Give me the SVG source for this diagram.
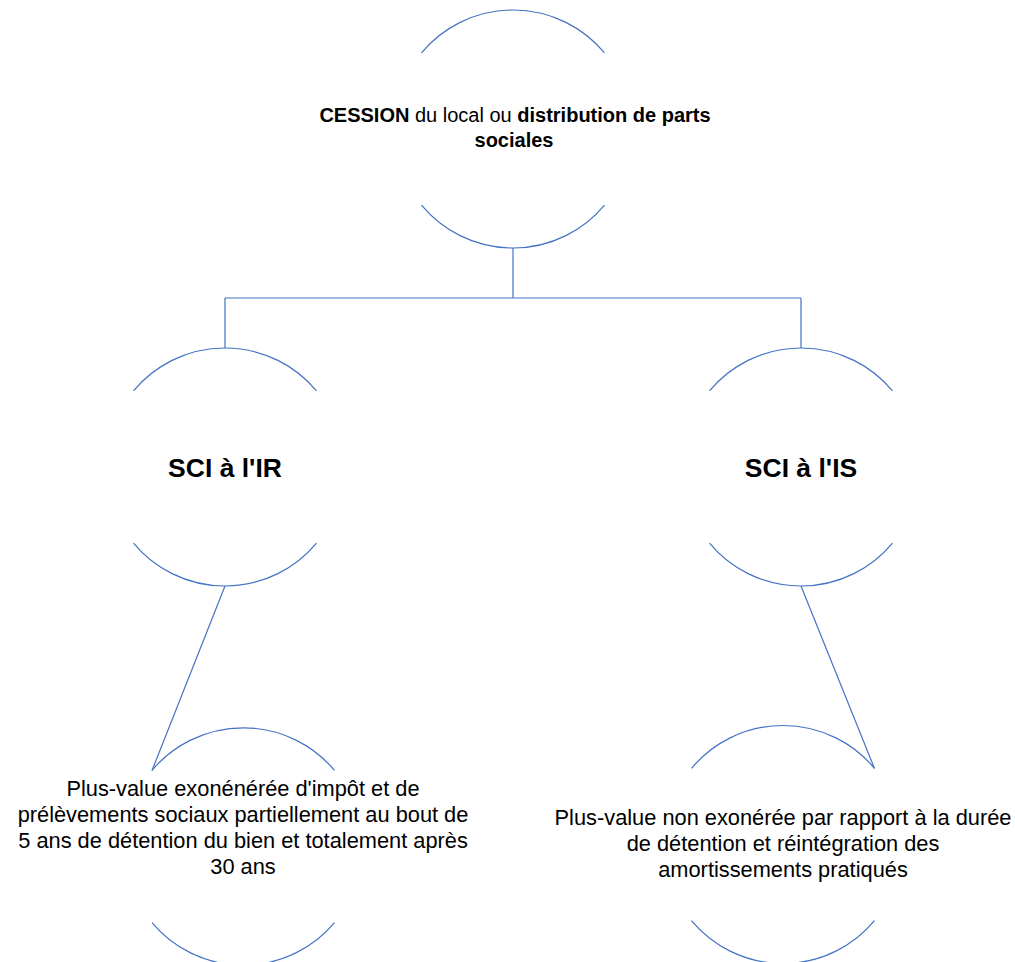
<svg xmlns="http://www.w3.org/2000/svg" width="1015" height="962" viewBox="0 0 1015 962">
<style>
.arc{fill:none;stroke:#4472C4;stroke-width:1.2}
.con{fill:none;stroke:#4472C4;stroke-width:1.2}
.t{font-family:"Liberation Sans",Arial,sans-serif;fill:#000;text-anchor:middle}
.s20{font-size:20px}
.s22{font-size:21.8px}
.big{font-size:26.5px;font-weight:bold}
.b{font-weight:bold}
</style>
<rect width="1015" height="962" fill="#fff"/>
<g id="connectors">
<path class="con" d="M513 248 V298 M225 298 H801 M225 298 V348 M801 298 V348"/>
<path class="con" d="M225 586 L152 770.5"/>
<path class="con" d="M801 586 L874.5 768.5"/>
</g>
<g id="node-cession">
<path class="arc" d="M421.5 52.9 A119 119 0 0 1 604.5 52.9"/>
<path class="arc" d="M604.5 205.1 A119 119 0 0 1 421.5 205.1"/>
<text class="t s20" x="515" y="121.5"><tspan class="b">CESSION</tspan> du local ou <tspan class="b">distribution de parts</tspan></text>
<text class="t s20 b" x="514" y="146.5">sociales</text>
</g>
<g id="node-ir">
<path class="arc" d="M133.5 390.9 A119 119 0 0 1 316.5 390.9"/>
<path class="arc" d="M316.5 543.1 A119 119 0 0 1 133.5 543.1"/>
<text class="t big" x="225" y="476.5">SCI à l'IR</text>
</g>
<g id="node-is">
<path class="arc" d="M709.5 390.9 A119 119 0 0 1 892.5 390.9"/>
<path class="arc" d="M892.5 543.1 A119 119 0 0 1 709.5 543.1"/>
<text class="t big" x="801" y="476.5">SCI à l'IS</text>
</g>
<g id="node-ir-result">
<path class="arc" d="M152 770.4 A119 119 0 0 1 334.5 770.4"/>
<path class="arc" d="M334.5 922.6 A119 119 0 0 1 152 922.6"/>
<text class="t s22" x="243" y="795.7">Plus-value exonénérée d'impôt et de</text>
<text class="t s22" x="243" y="821.7">prélèvements sociaux partiellement au bout de</text>
<text class="t s22" x="243" y="847.7">5 ans de détention du bien et totalement après</text>
<text class="t s22" x="243" y="873.7">30 ans</text>
</g>
<g id="node-is-result">
<path class="arc" d="M691.5 768.4 A119 119 0 0 1 874.5 768.4"/>
<path class="arc" d="M874.5 920.6 A119 119 0 0 1 691.5 920.6"/>
<text class="t s22" x="783" y="825">Plus-value non exonérée par rapport à la durée</text>
<text class="t s22" x="783" y="851">de détention et réintégration des</text>
<text class="t s22" x="783" y="877">amortissements pratiqués</text>
</g>
</svg>
